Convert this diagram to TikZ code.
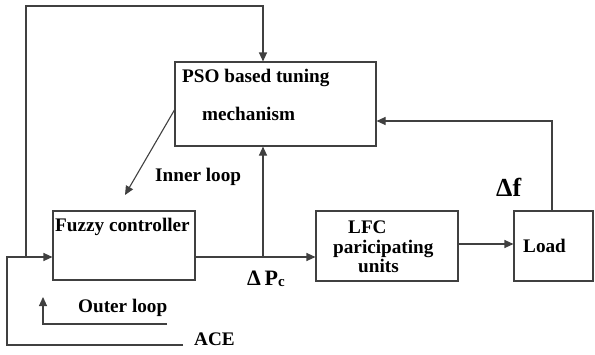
\documentclass[tikz,border=0pt]{standalone}
\usepackage{fontspec}
\setmainfont{Liberation Serif}
\usepackage{tikz}
\usetikzlibrary{arrows.meta,positioning,calc}

\begin{document}
\begin{tikzpicture}[
  x=1pt,y=-1pt,
  block/.style={draw=black!75, line width=1.1pt, minimum width=#1, inner sep=0pt},
  lbl/.style={inner sep=0pt, font=\fontsize{19.2}{21}\selectfont\bfseries},
  arr/.style={-{Triangle[length=9pt,width=8pt]}, draw=black!75, line width=1.1pt},
  wire/.style={draw=black!75, line width=1.1pt}
]
\useasboundingbox (0,0) rectangle (595,354);
% blocks
\node[block=201pt, minimum height=84pt] (pso) at (275.5,104) {};
\node[block=142pt, minimum height=69pt] (fuzzy) at (124,245.5) {};
\node[block=142pt, minimum height=70pt] (lfc) at (387,246) {};
\node[block=79pt, minimum height=70pt] (load) at (553.5,246) {};
% texts
\node[lbl, anchor=base west] (psotxt) at (182,82) {PSO based tuning};
\node[lbl, anchor=base west] (mechtxt) at (202,120) {mechanism};
\node[lbl, anchor=base west] (fuzzytxt) at (55,231) {Fuzzy controller};
\node[lbl, anchor=base west] (lfctxt) at (348,233) {LFC};
\node[lbl, anchor=base west] (partxt) at (333,253) {paricipating};
\node[lbl, anchor=base west] (unitstxt) at (358,272) {units};
\node[lbl, anchor=base west] (loadtxt) at (523,252) {Load};
\node[lbl, anchor=base west] (innertxt) at (155,181) {Inner loop};
\node[lbl, anchor=base west] (outertxt) at (78,312) {Outer loop};
\node[lbl, anchor=base west] (acetxt) at (194,345) {ACE};
\node[lbl, anchor=base west, font=\fontsize{26}{26}\selectfont\bfseries] (dftxt) at (496,196) {Δf};
\node[lbl, anchor=base west, font=\fontsize{22}{22}\selectfont\bfseries] (dpctxt) at (247,285)
  {Δ\,P{\fontsize{15}{15}\selectfont\raisebox{-1pt}{c}}};
% junctions
\coordinate (top) at (263,6);
\coordinate (split) at (26,257);
\coordinate (corner) at (7,257);
\coordinate (ace) at (183,345);
\coordinate (pc) at (263,257);
\coordinate (df) at (552,121);
\coordinate (ilend) at (125,195);
\coordinate (ol1) at (167,324);
\coordinate (ol2) at (43,297);
% connectors
\draw[arr] (ace) -| (corner) -- (corner -| fuzzy.west);
\draw[arr] (split) |- (top) -- (top |- pso.north);
\draw[wire] (fuzzy.east |- pc) -- (pc);
\draw[arr] (pc) -- (pc -| lfc.west);
\draw[arr] (pc) -- (pc |- pso.south);
\draw[arr] ([yshift=2pt]lfc.east) -- ([yshift=2pt]load.west);
\draw[arr] (load.north -| df) -- (df) -- (df -| pso.east);
\draw[arr] ([yshift=-6pt]pso.west) -- (ilend);
\draw[arr] (ol1) -| (ol2);
\end{tikzpicture}
\end{document}
